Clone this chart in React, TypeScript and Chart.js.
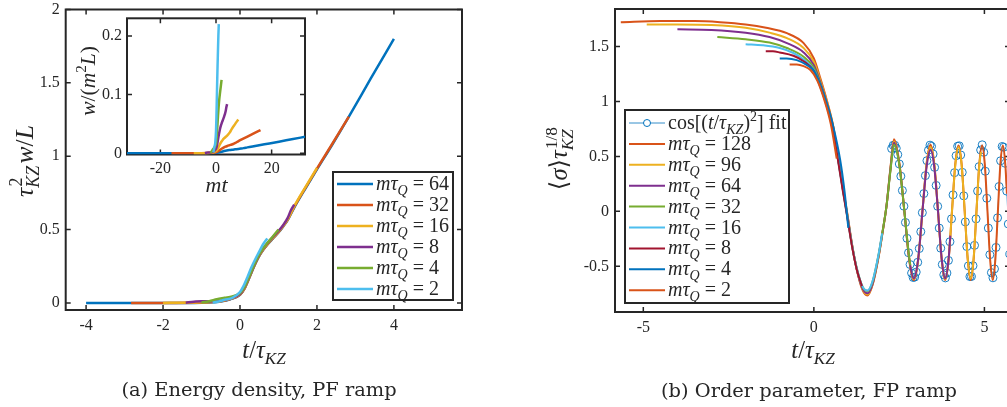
import React, { useEffect, useRef } from "react";
import { Chart, registerables } from "chart.js";
Chart.register(...registerables);

const MATH = '"Liberation Serif", "DejaVu Serif", serif';
const CAPTION = '"DejaVu Serif", serif';
const INK = "#262626";

const BLUE = "#0072BD";
const ORANGE = "#D95319";
const YELLOW = "#EDB120";
const PURPLE = "#7E2F8E";
const GREEN = "#77AC30";
const CYAN = "#4DBEEE";
const RED = "#A2142F";

type Pt = [number, number];

// ---------------- Panel (a): energy density, PF ramp ----------------
const A_X_TICKS = [-4, -2, 0, 2, 4];
const A_X_LABELS = ["-4", "-2", "0", "2", "4"];
const A_Y_TICKS = [0, 0.5, 1, 1.5, 2];
const A_Y_LABELS = ["0", "0.5", "1", "1.5", "2"];
const A_TAU_Q = [64, 32, 16, 8, 4, 2];
const A_COLORS = [BLUE, ORANGE, YELLOW, PURPLE, GREEN, CYAN];

const W64: Pt[] = [[-4, 0], [-3, 0], [-2, 0], [-1, 0.002], [-0.5, 0.01], [-0.25, 0.025], [0, 0.055], [0.12, 0.1], [0.24, 0.17], [0.36, 0.245], [0.48, 0.31], [0.6, 0.36], [0.72, 0.4], [0.86, 0.44], [1.0, 0.48], [1.12, 0.52], [1.24, 0.565], [1.41, 0.65], [1.7, 0.78], [2.0, 0.91], [2.4, 1.08], [2.83, 1.27], [3.4, 1.53], [4.0, 1.8]];
const W32: Pt[] = [[-2.83, 0], [-2, 0], [-1, 0.003], [-0.5, 0.012], [-0.25, 0.027], [0, 0.057], [0.12, 0.1], [0.24, 0.172], [0.36, 0.247], [0.48, 0.312], [0.6, 0.362], [0.72, 0.402], [0.86, 0.443], [1.0, 0.483], [1.12, 0.523], [1.24, 0.568], [1.41, 0.655], [1.7, 0.785], [2.0, 0.915], [2.4, 1.085], [2.83, 1.27]];
const W16: Pt[] = [[-2, 0], [-1.5, 0.002], [-1, 0.004], [-0.5, 0.014], [-0.25, 0.03], [0, 0.06], [0.12, 0.105], [0.24, 0.175], [0.36, 0.25], [0.48, 0.315], [0.6, 0.365], [0.72, 0.405], [0.86, 0.445], [1.0, 0.485], [1.12, 0.525], [1.24, 0.57], [1.41, 0.66], [1.7, 0.79], [2.0, 0.92]];
const W8: Pt[] = [[-1.41, 0.002], [-1.2, 0.008], [-1.0, 0.012], [-0.8, 0.01], [-0.5, 0.016], [-0.25, 0.032], [0, 0.062], [0.12, 0.108], [0.24, 0.178], [0.36, 0.252], [0.48, 0.318], [0.6, 0.37], [0.72, 0.41], [0.86, 0.45], [1.0, 0.49], [1.12, 0.53], [1.24, 0.58], [1.32, 0.63], [1.41, 0.67]];
const W4: Pt[] = [[-1, 0.003], [-0.8, 0.012], [-0.6, 0.025], [-0.4, 0.035], [-0.2, 0.045], [0, 0.068], [0.12, 0.112], [0.24, 0.18], [0.36, 0.255], [0.48, 0.32], [0.6, 0.372], [0.72, 0.412], [0.86, 0.455], [1.0, 0.5]];
const W2: Pt[] = [[-0.71, 0.003], [-0.55, 0.01], [-0.4, 0.022], [-0.2, 0.035], [0, 0.075], [0.1, 0.12], [0.2, 0.18], [0.3, 0.245], [0.4, 0.3], [0.5, 0.35], [0.6, 0.4], [0.71, 0.44]];
const A_SERIES = [W64, W32, W16, W8, W4, W2];

// inset: same runs in units of m
const I_X_TICKS = [-20, 0, 20];
const I_X_LABELS = ["-20", "0", "20"];
const I_Y_TICKS = [0, 0.1, 0.2];
const I_Y_LABELS = ["0", "0.1", "0.2"];

// ---------------- Panel (b): order parameter, FP ramp ----------------
const B_X_TICKS = [-5, 0, 5];
const B_X_LABELS = ["-5", "0", "5"];
const B_Y_TICKS = [-0.5, 0, 0.5, 1, 1.5];
const B_Y_LABELS = ["-0.5", "0", "0.5", "1", "1.5"];
const B_TAU_Q = [128, 96, 64, 32, 16, 8, 4, 2];
const B_COLORS = [ORANGE, YELLOW, PURPLE, GREEN, CYAN, RED, BLUE, ORANGE];

const S128: Pt[] = [[-5.66, 1.72], [-4.5, 1.73], [-3.5, 1.73], [-2.75, 1.72], [-2, 1.7], [-1.4, 1.67], [-0.79, 1.62], [-0.3, 1.53], [0, 1.39], [0.18, 1.22], [0.38, 1.01], [0.57, 0.77], [0.72, 0.47], [0.85, 0.22], [0.97, 0.0], [1.12, -0.3], [1.26, -0.53], [1.42, -0.71], [1.57, -0.765], [1.72, -0.67], [1.9, -0.41], [2.02, -0.18], [2.13, 0.05], [2.24, 0.38], [2.35, 0.655], [2.506, 0.44], [2.654, 0], [2.795, -0.44], [2.93, -0.625], [3.059, -0.44], [3.183, 0], [3.303, 0.43], [3.419, 0.605], [3.531, 0.43], [3.64, 0], [3.747, -0.44], [3.85, -0.625], [3.951, -0.44], [4.049, 0], [4.146, 0.43], [4.24, 0.6], [4.332, 0.43], [4.422, 0], [4.511, -0.44], [4.598, -0.625], [4.683, -0.44], [4.767, 0], [4.85, 0.43], [4.931, 0.6], [5.011, 0.43], [5.09, 0], [5.168, -0.44], [5.245, -0.625], [5.32, -0.44], [5.395, 0], [5.468, 0.43], [5.541, 0.6], [5.612, 0.43], [5.66, 0.16]];
const S96: Pt[] = [[-4.9, 1.7], [-4, 1.7], [-3, 1.695], [-2, 1.67], [-1.3, 1.625], [-0.79, 1.575], [-0.3, 1.485], [0, 1.36], [0.18, 1.2], [0.38, 1.0], [0.57, 0.765], [0.72, 0.465], [0.85, 0.21], [0.97, -0.01], [1.12, -0.31], [1.26, -0.53], [1.42, -0.7], [1.57, -0.755], [1.72, -0.665], [1.9, -0.405], [2.02, -0.18], [2.13, 0.05], [2.24, 0.37], [2.35, 0.635], [2.506, 0.43], [2.654, 0], [2.795, -0.43], [2.93, -0.615], [3.059, -0.43], [3.183, 0], [3.303, 0.42], [3.419, 0.585], [3.531, 0.42], [3.64, 0], [3.747, -0.43], [3.85, -0.615], [3.951, -0.43], [4.049, 0], [4.146, 0.42], [4.24, 0.585], [4.332, 0.42], [4.422, 0], [4.511, -0.43], [4.598, -0.61], [4.683, -0.43], [4.767, 0], [4.85, 0.42], [4.9, 0.54]];
const S64: Pt[] = [[-4, 1.655], [-3, 1.65], [-2, 1.625], [-1.3, 1.585], [-0.79, 1.53], [-0.3, 1.445], [0, 1.33], [0.18, 1.18], [0.38, 0.985], [0.57, 0.755], [0.72, 0.46], [0.85, 0.205], [0.97, -0.015], [1.12, -0.31], [1.26, -0.53], [1.42, -0.695], [1.57, -0.745], [1.72, -0.66], [1.9, -0.4], [2.02, -0.175], [2.13, 0.05], [2.24, 0.365], [2.35, 0.625], [2.506, 0.425], [2.654, 0], [2.795, -0.43], [2.93, -0.61], [3.059, -0.43], [3.183, 0], [3.303, 0.4], [3.419, 0.56], [3.531, 0.4], [3.64, 0], [3.747, -0.43], [3.85, -0.61], [3.951, -0.43], [4.0, -0.22]];
const S32: Pt[] = [[-2.83, 1.585], [-2, 1.565], [-1.3, 1.535], [-0.79, 1.485], [-0.3, 1.405], [0, 1.305], [0.18, 1.165], [0.38, 0.975], [0.57, 0.745], [0.72, 0.455], [0.85, 0.2], [0.97, -0.02], [1.12, -0.31], [1.26, -0.52], [1.42, -0.68], [1.57, -0.725], [1.72, -0.64], [1.9, -0.39], [2.02, -0.17], [2.13, 0.05], [2.24, 0.355], [2.35, 0.605], [2.506, 0.42], [2.654, 0], [2.795, -0.42], [2.83, -0.49]];
const S16: Pt[] = [[-2, 1.52], [-1.5, 1.51], [-1, 1.485], [-0.6, 1.44], [-0.3, 1.38], [0, 1.285], [0.18, 1.15], [0.38, 0.965], [0.57, 0.735], [0.72, 0.45], [0.85, 0.195], [0.97, -0.025], [1.12, -0.31], [1.26, -0.52], [1.42, -0.68], [1.57, -0.72], [1.72, -0.635], [1.9, -0.385], [2.0, -0.2]];
const S8: Pt[] = [[-1.41, 1.455], [-1.2, 1.455], [-1, 1.445], [-0.6, 1.415], [-0.3, 1.365], [0, 1.275], [0.18, 1.14], [0.38, 0.955], [0.57, 0.725], [0.72, 0.44], [0.85, 0.185], [0.97, -0.035], [1.12, -0.32], [1.26, -0.53], [1.41, -0.68]];
const S4: Pt[] = [[-1, 1.39], [-0.8, 1.39], [-0.5, 1.375], [-0.2, 1.33], [0, 1.28], [0.18, 1.16], [0.38, 0.98], [0.57, 0.77], [0.77, 0.47], [0.9, 0.18], [1.01, -0.15]];
const S2: Pt[] = [[-0.71, 1.335], [-0.5, 1.335], [-0.3, 1.32], [-0.1, 1.285], [0.1, 1.19], [0.3, 1.02], [0.5, 0.79], [0.67, 0.48]];
const B_SERIES = [S128, S96, S64, S32, S16, S8, S4, S2];

const FIT_T = [2.28, 2.325, 2.37, 2.415, 2.46, 2.505, 2.55, 2.595, 2.64, 2.685, 2.73, 2.775, 2.82, 2.865, 2.91, 2.955, 3.0, 3.045, 3.09, 3.135, 3.18, 3.225, 3.27, 3.315, 3.36, 3.405, 3.45, 3.495, 3.54, 3.585, 3.63, 3.675, 3.72, 3.765, 3.81, 3.855, 3.9, 3.945, 3.99, 4.035, 4.08, 4.125, 4.17, 4.215, 4.26, 4.305, 4.35, 4.395, 4.44, 4.485, 4.53, 4.575, 4.62, 4.665, 4.71, 4.755, 4.8, 4.845, 4.89, 4.935, 4.98, 5.025, 5.07, 5.115, 5.16, 5.205, 5.25, 5.295, 5.34, 5.385, 5.43, 5.475, 5.52, 5.565, 5.61, 5.655, 5.7, 5.745];
const FIT_Y = [0.571, 0.601, 0.602, 0.574, 0.516, 0.431, 0.32, 0.19, 0.047, -0.101, -0.245, -0.376, -0.483, -0.561, -0.601, -0.598, -0.552, -0.463, -0.338, -0.185, -0.012, 0.162, 0.325, 0.461, 0.557, 0.602, 0.591, 0.522, 0.4, 0.236, 0.046, -0.152, -0.335, -0.483, -0.577, -0.605, -0.561, -0.446, -0.276, -0.068, 0.15, 0.352, 0.506, 0.592, 0.596, 0.513, 0.355, 0.141, -0.096, -0.32, -0.496, -0.593, -0.592, -0.494, -0.309, -0.068, 0.185, 0.407, 0.558, 0.605, 0.537, 0.365, 0.119, -0.152, -0.394, -0.557, -0.604, -0.523, -0.328, -0.059, 0.226, 0.46, 0.59, 0.583, 0.437, 0.184, -0.115, -0.389];

// ---------------- text helpers ----------------
type Seg = { t: string; it?: boolean; sub?: boolean; sup?: boolean; up?: string; down?: string };

function fnt(size: number, it: boolean, fam = MATH) {
  return `${it ? "italic " : ""}${size}px ${fam}`;
}
function segWidth(ctx: CanvasRenderingContext2D, s: Seg, size: number, fam: string) {
  if (s.up !== undefined) {
    ctx.font = fnt(size * 0.7, false, fam);
    const a = ctx.measureText(s.up).width;
    ctx.font = fnt(size * 0.7, true, fam);
    const b = ctx.measureText(s.down || "").width;
    return Math.max(a, b) + size * 0.1;
  }
  ctx.font = fnt(s.sub || s.sup ? size * 0.7 : size, !!s.it, fam);
  return ctx.measureText(s.t).width;
}
function drawSegs(ctx: CanvasRenderingContext2D, segs: Seg[], x: number, y: number, size: number, align: string, fam = MATH) {
  const total = segs.reduce((w, s) => w + segWidth(ctx, s, size, fam), 0);
  let cx = align === "center" ? x - total / 2 : align === "right" ? x - total : x;
  ctx.textAlign = "left";
  ctx.textBaseline = "alphabetic";
  ctx.fillStyle = INK;
  for (const s of segs) {
    const w = segWidth(ctx, s, size, fam);
    if (s.up !== undefined) {
      ctx.font = fnt(size * 0.7, false, fam);
      ctx.fillText(s.up, cx + size * 0.05, y - size * 0.42);
      ctx.font = fnt(size * 0.7, true, fam);
      ctx.fillText(s.down || "", cx, y + size * 0.24);
    } else {
      ctx.font = fnt(s.sub || s.sup ? size * 0.7 : size, !!s.it, fam);
      ctx.fillText(s.t, cx, y + (s.sub ? size * 0.24 : s.sup ? -size * 0.42 : 0));
    }
    cx += w;
  }
}

const T_OVER_TKZ: Seg[] = [{ t: "t", it: true }, { t: "/" }, { t: "τ", it: true }, { t: "KZ", it: true, sub: true }];
const legendSegs = (n: number): Seg[] => [{ t: "mτ", it: true }, { t: "Q", it: true, sub: true }, { t: " = " + n }];

type TextSpec = { segs: Seg[]; x: number; y: number; size: number; rot?: boolean; fam?: string };
type LegendSpec = {
  x: number; y: number; w: number; h: number; row0: number; rowH: number;
  l0: number; l1: number; tx: number; size: number;
  entries: { color: string; width: number; marker?: boolean; segs: Seg[] }[];
};
type Spec = {
  datasets: any[];
  xr: [number, number]; yr: [number, number];
  xTicks: number[]; xLabels: string[]; yTicks: number[]; yLabels: string[];
  yW: number; xH: number; padding: { left: number; top: number; right: number; bottom: number };
  tickSize: number; tickPad: number;
  white?: boolean;
  texts: TextSpec[];
  legend?: LegendSpec;
};

function build(canvas: HTMLCanvasElement, s: Spec) {
  const plugin = {
    id: "matlabLook",
    beforeDatasetsDraw(chart: any) {
      const { ctx, chartArea: a, scales } = chart;
      ctx.save();
      if (s.white) {
        ctx.fillStyle = "#fff";
        ctx.fillRect(a.left, a.top, a.right - a.left, a.bottom - a.top);
      }
      ctx.strokeStyle = INK;
      ctx.lineWidth = 1.5;
      ctx.beginPath();
      const L = 5;
      for (const v of s.xTicks) {
        const px = scales.x.getPixelForValue(v);
        ctx.moveTo(px, a.bottom); ctx.lineTo(px, a.bottom - L);
        ctx.moveTo(px, a.top); ctx.lineTo(px, a.top + L);
      }
      for (const v of s.yTicks) {
        const py = scales.y.getPixelForValue(v);
        ctx.moveTo(a.left, py); ctx.lineTo(a.left + L, py);
        ctx.moveTo(a.right, py); ctx.lineTo(a.right - L, py);
      }
      ctx.stroke();
      ctx.lineWidth = 2;
      ctx.strokeRect(a.left, a.top, a.right - a.left, a.bottom - a.top);
      ctx.restore();
    },
    afterDraw(chart: any) {
      const ctx: CanvasRenderingContext2D = chart.ctx;
      ctx.save();
      const L = s.legend;
      if (L) {
        ctx.fillStyle = "#fff";
        ctx.fillRect(L.x, L.y, L.w, L.h);
        ctx.strokeStyle = INK;
        ctx.lineWidth = 2;
        ctx.strokeRect(L.x, L.y, L.w, L.h);
        L.entries.forEach((e, i) => {
          const cy = L.row0 + i * L.rowH;
          ctx.strokeStyle = e.color;
          ctx.lineWidth = e.width;
          ctx.beginPath();
          ctx.moveTo(L.l0, cy);
          ctx.lineTo(L.l1, cy);
          ctx.stroke();
          if (e.marker) {
            ctx.lineWidth = 1;
            ctx.beginPath();
            ctx.arc((L.l0 + L.l1) / 2, cy, 3.5, 0, Math.PI * 2);
            ctx.fillStyle = "#fff";
            ctx.fill();
            ctx.stroke();
          }
          drawSegs(ctx, e.segs, L.tx, cy + L.size * 0.3, L.size, "left");
        });
      }
      for (const t of s.texts) {
        if (t.rot) {
          ctx.save();
          ctx.translate(t.x, t.y);
          ctx.rotate(-Math.PI / 2);
          drawSegs(ctx, t.segs, 0, 0, t.size, "center", t.fam || MATH);
          ctx.restore();
        } else {
          drawSegs(ctx, t.segs, t.x, t.y, t.size, "center", t.fam || MATH);
        }
      }
      ctx.restore();
    },
  };
  const tickFont = { family: MATH, size: s.tickSize };
  return new Chart(canvas, {
    type: "scatter",
    data: { datasets: s.datasets },
    options: {
      responsive: false,
      animation: false,
      devicePixelRatio: 1,
      events: [],
      layout: { padding: s.padding },
      plugins: { legend: { display: false }, tooltip: { enabled: false } },
      scales: {
        x: {
          type: "linear",
          min: s.xr[0],
          max: s.xr[1],
          grid: { display: false, drawTicks: false },
          border: { display: false },
          ticks: {
            font: tickFont, color: INK, padding: s.tickPad, autoSkip: false, maxRotation: 0, minRotation: 0,
            callback: (_v: any, i: number) => s.xLabels[i],
          },
          afterBuildTicks: (sc: any) => { sc.ticks = s.xTicks.map((v) => ({ value: v })); },
          afterFit: (sc: any) => { sc.height = s.xH; sc.paddingLeft = 0; sc.paddingRight = 0; },
        },
        y: {
          type: "linear",
          min: s.yr[0],
          max: s.yr[1],
          grid: { display: false, drawTicks: false },
          border: { display: false },
          ticks: {
            font: tickFont, color: INK, padding: s.tickPad, autoSkip: false,
            callback: (_v: any, i: number) => s.yLabels[i],
          },
          afterBuildTicks: (sc: any) => { sc.ticks = s.yTicks.map((v) => ({ value: v })); },
          afterFit: (sc: any) => { sc.width = s.yW; sc.paddingTop = 0; sc.paddingBottom = 0; },
        },
      },
    } as any,
    plugins: [plugin as any],
  });
}

const line = (pts: { x: number; y: number }[], color: string, width: number, order: number) => ({
  data: pts,
  showLine: true,
  borderColor: color,
  borderWidth: width,
  pointRadius: 0,
  cubicInterpolationMode: "monotone",
  order,
});

function specA(): Spec {
  return {
    datasets: A_SERIES.map((pts, i) => line(pts.map(([x, y]) => ({ x, y })), A_COLORS[i], 2.5, A_SERIES.length - i)),
    xr: [-4.53, 5.77], yr: [-0.048, 2.0],
    xTicks: A_X_TICKS, xLabels: A_X_LABELS, yTicks: A_Y_TICKS, yLabels: A_Y_LABELS,
    yW: 65.7, xH: 30, padding: { left: 0, top: 9.5, right: 38, bottom: 67 },
    tickSize: 16, tickPad: 6,
    texts: [
      { segs: [{ t: "τ", it: true }, { t: "", up: "2", down: "KZ" }, { t: "w", it: true }, { t: "/" }, { t: "L", it: true }], x: 33, y: 161, size: 25.5, rot: true },
      { segs: T_OVER_TKZ, x: 264, y: 358, size: 24.5 },
      { segs: [{ t: "(a) Energy density, PF ramp" }], x: 259, y: 396, size: 19.4, fam: CAPTION },
    ],
    legend: {
      x: 333, y: 172, w: 120, h: 128, row0: 184, rowH: 21, l0: 337, l1: 373, tx: 376, size: 20,
      entries: A_TAU_Q.map((n, i) => ({ color: A_COLORS[i], width: 2.5, segs: legendSegs(n) })),
    },
  };
}

function specInset(): Spec {
  return {
    datasets: A_SERIES.map((pts, i) =>
      line(pts.map(([x, y]) => ({ x: x * Math.sqrt(A_TAU_Q[i]), y: y / A_TAU_Q[i] })), A_COLORS[i], 2.5, A_SERIES.length - i)
    ),
    xr: [-32, 32], yr: [-0.002, 0.23],
    xTicks: I_X_TICKS, xLabels: I_X_LABELS, yTicks: I_Y_TICKS, yLabels: I_Y_LABELS,
    yW: 67, xH: 25, padding: { left: 0, top: 18.3, right: 15, bottom: 20.5 },
    tickSize: 16, tickPad: 5,
    white: true,
    texts: [
      { segs: [{ t: "w", it: true }, { t: "/(" }, { t: "m", it: true }, { t: "2", sup: true }, { t: "L", it: true }, { t: ")" }], x: 35, y: 81, size: 21.5, rot: true },
      { segs: [{ t: "mt", it: true }], x: 156.5, y: 192, size: 22 },
    ],
  };
}

function specB(): Spec {
  const fit = {
    data: FIT_T.map((x, i) => ({ x, y: FIT_Y[i] })),
    showLine: true,
    borderColor: BLUE,
    borderWidth: 0.8,
    pointRadius: 4,
    pointStyle: "circle",
    pointBorderColor: BLUE,
    pointBorderWidth: 0.9,
    pointBackgroundColor: "rgba(0,0,0,0)",
    order: 100,
  };
  return {
    datasets: [fit, ...B_SERIES.map((pts, i) => line(pts.map(([x, y]) => ({ x, y })), B_COLORS[i], 2, B_SERIES.length - i))],
    xr: [-5.83, 5.75], yr: [-0.915, 1.84],
    xTicks: B_X_TICKS, xLabels: B_X_LABELS, yTicks: B_Y_TICKS, yLabels: B_Y_LABELS,
    yW: 115, xH: 30, padding: { left: 0, top: 9, right: 30, bottom: 65 },
    tickSize: 16, tickPad: 6,
    texts: [
      { segs: [{ t: "⟨" }, { t: "σ", it: true }, { t: "⟩" }, { t: "τ", it: true }, { t: "", up: "1/8", down: "KZ" }], x: 67, y: 158, size: 24.5, rot: true },
      { segs: T_OVER_TKZ, x: 313, y: 358, size: 24.5 },
      { segs: [{ t: "(b) Order parameter, FP ramp" }], x: 309, y: 397, size: 19.4, fam: CAPTION },
    ],
    legend: {
      x: 125, y: 110, w: 164, h: 193, row0: 123, rowH: 20.9, l0: 129, l1: 165, tx: 168, size: 20,
      entries: [
        {
          color: BLUE, width: 0.8, marker: true,
          segs: [{ t: "cos[(" }, { t: "t", it: true }, { t: "/" }, { t: "τ", it: true }, { t: "KZ", it: true, sub: true }, { t: ")" }, { t: "2", sup: true }, { t: "] fit" }],
        },
        ...B_TAU_Q.map((n, i) => ({ color: B_COLORS[i], width: 2, segs: legendSegs(n) })),
      ],
    },
  };
}

export default function App() {
  const aRef = useRef<HTMLCanvasElement>(null);
  const iRef = useRef<HTMLCanvasElement>(null);
  const bRef = useRef<HTMLCanvasElement>(null);
  useEffect(() => {
    const charts = [build(aRef.current!, specA()), build(bRef.current!, specB()), build(iRef.current!, specInset())];
    return () => charts.forEach((c) => c.destroy());
  }, []);
  return (
    <div style={{ position: "fixed", left: 0, top: 0, width: 1007, height: 407, overflow: "hidden", background: "#fff" }}>
      <canvas ref={aRef} width={500} height={407} style={{ position: "absolute", left: 0, top: 0, width: 500, height: 407 }} />
      <canvas ref={bRef} width={540} height={407} style={{ position: "absolute", left: 500, top: 0, width: 540, height: 407 }} />
      <canvas ref={iRef} width={260} height={200} style={{ position: "absolute", left: 60, top: 0, width: 260, height: 200 }} />
    </div>
  );
}
